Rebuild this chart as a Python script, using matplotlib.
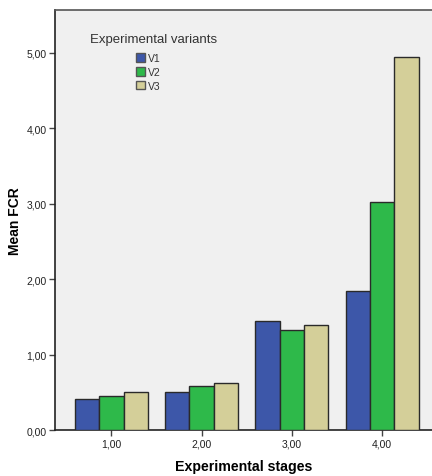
import numpy as np
import matplotlib
matplotlib.use('Agg')
import matplotlib.pyplot as plt
from matplotlib.patches import Patch

plt.rcParams['font.family'] = ['Liberation Sans', 'DejaVu Sans']

stages = [1, 2, 3, 4]
stage_labels = ['1,00', '2,00', '3,00', '4,00']
variants = ['V1', 'V2', 'V3']
v1 = [0.41, 0.51, 1.45, 1.85]
v2 = [0.45, 0.58, 1.32, 3.03]
v3 = [0.51, 0.63, 1.39, 4.94]
colors = ['#3d57a9', '#2eb94a', '#d4cf99']
yticks = [0, 1, 2, 3, 4, 5]
ytick_labels = ['0,00', '1,00', '2,00', '3,00', '4,00', '5,00']

fig = plt.figure(figsize=(4.32, 4.77), dpi=100)
fig.patch.set_facecolor('white')
ax = fig.add_axes([55 / 432, 0.0964, 377 / 432, 0.8806])
ax.set_facecolor('#f0f0f0')

w = 0.27
x = np.array(stages, dtype=float)
for i, (vals, c) in enumerate(zip([v1, v2, v3], colors)):
    ax.bar(x + (i - 1) * w, vals, width=w, color=c, edgecolor='#2a2a2a',
           linewidth=1.0, zorder=3)

ax.set_xlim(0.374, 4.554)
ax.set_ylim(0, 5.57)
ax.set_xticks(stages)
ax.set_xticklabels(stage_labels, fontsize=7.5, color='#222222')
ax.set_yticks(yticks)
ax.set_yticklabels(ytick_labels, fontsize=7.5, color='#222222')
ax.tick_params(direction='out', length=4, width=1, color='#444444', pad=2)

for s in ['left', 'bottom']:
    ax.spines[s].set_color('#222222')
    ax.spines[s].set_linewidth(1.2)
ax.spines['top'].set_color('#555555')
ax.spines['top'].set_linewidth(1.2)
ax.spines['right'].set_visible(False)

ax.set_xlabel('Experimental stages', fontsize=10.2, fontweight='bold', labelpad=8)
ax.set_ylabel('Mean FCR', fontsize=10, fontweight='bold', labelpad=3)

# legend: title placed by hand, items indented under it
ax.text(35 / 377, 0.931, 'Experimental variants', transform=ax.transAxes,
        fontsize=9.5, color='#333333', va='center', ha='left')
handles = [Patch(facecolor=c, edgecolor='#555555', linewidth=1.0) for c in colors]
leg = ax.legend(handles, variants, loc='upper left', bbox_to_anchor=(81 / 377, 0.897),
                frameon=False, fontsize=7.5, handlelength=0.85, handleheight=0.87,
                handletextpad=0.25, labelspacing=0.35, borderpad=0, borderaxespad=0)
for t in leg.get_texts():
    t.set_color('#333333')

fig.savefig('out.png', dpi=100)
